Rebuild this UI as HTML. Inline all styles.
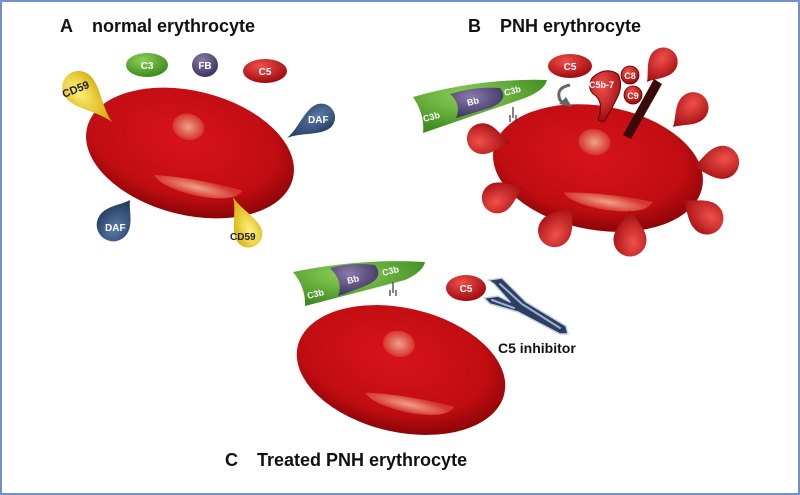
<!DOCTYPE html>
<html><head><meta charset="utf-8"><style>
html,body{margin:0;padding:0;background:#fff;}
svg{display:block}
text{font-family:"Liberation Sans",Arial,sans-serif;font-weight:bold}
</style></head><body>
<svg width="800" height="495" viewBox="0 0 800 495" xmlns="http://www.w3.org/2000/svg">
<defs>
<radialGradient id="rbc" cx="45%" cy="40%" r="60%">
<stop offset="0" stop-color="#d8131a"/><stop offset="0.75" stop-color="#c00d12"/><stop offset="1" stop-color="#8e0508"/>
</radialGradient>
<radialGradient id="hl" cx="50%" cy="50%" r="50%">
<stop offset="0" stop-color="#f0a08a"/><stop offset="1" stop-color="#d4352e"/>
</radialGradient>
<radialGradient id="grn" cx="40%" cy="30%" r="70%"><stop offset="0" stop-color="#8ed058"/><stop offset="1" stop-color="#3c8a1e"/></radialGradient>
<radialGradient id="pur" cx="40%" cy="30%" r="70%"><stop offset="0" stop-color="#8a7aaa"/><stop offset="1" stop-color="#3d3462"/></radialGradient>
<radialGradient id="red" cx="40%" cy="30%" r="70%"><stop offset="0" stop-color="#f0504a"/><stop offset="1" stop-color="#a00a0e"/></radialGradient>
<radialGradient id="yel" cx="40%" cy="30%" r="70%"><stop offset="0" stop-color="#fff27a"/><stop offset="1" stop-color="#d0a400"/></radialGradient>
<radialGradient id="blu" cx="40%" cy="30%" r="70%"><stop offset="0" stop-color="#5a7aa8"/><stop offset="1" stop-color="#1f3556"/></radialGradient>
<g id="cell">
<ellipse cx="0" cy="0" rx="106" ry="62" fill="url(#rbc)"/>
<ellipse cx="-8" cy="-25" rx="16" ry="13" fill="url(#hl)"/>
<path d="M-30 30 Q15 22 60 24 Q55 38 15 40 Q-20 40 -30 30Z" fill="url(#hl)"/>
</g>
<path id="drop" d="M0 0 C-2 -12 -11 -22 -11 -32 A11 11 0 1 1 11 -32 C11 -22 2 -12 0 0Z"/>
<path id="drop2" d="M0 0 C-3 -6 -11 -12 -11 -20 A11 11 0 1 1 11 -20 C11 -12 3 -6 0 0Z"/>
</defs>
<rect x="1" y="1" width="798" height="493" fill="#fff" stroke="#7390c8" stroke-width="2"/>

<text x="60" y="32" font-size="18" fill="#111">A</text>
<text x="92" y="32" font-size="18" fill="#111">normal erythrocyte</text>
<text x="468" y="32" font-size="18" fill="#111">B</text>
<text x="500" y="32" font-size="18" fill="#111">PNH erythrocyte</text>
<text x="225" y="466" font-size="18" fill="#111">C</text>
<text x="257" y="466" font-size="18" fill="#111">Treated PNH erythrocyte</text>

<!-- A -->
<use href="#cell" transform="translate(190,153) rotate(14)"/>
<ellipse cx="147" cy="65" rx="21" ry="12" fill="url(#grn)"/><text x="147" y="69" font-size="10" fill="#fff" text-anchor="middle">C3</text>
<ellipse cx="205" cy="65" rx="13" ry="12" fill="url(#pur)"/><text x="205" y="69" font-size="10" fill="#fff" text-anchor="middle">FB</text>
<ellipse cx="265" cy="71" rx="22" ry="12" fill="url(#red)"/><text x="265" y="75" font-size="10" fill="#fff" text-anchor="middle">C5</text>
<use href="#drop" transform="translate(112,122) rotate(-44) scale(1.5)" fill="url(#yel)"/>
<text x="64" y="98" font-size="11" fill="#222" transform="rotate(-22 64 98)">CD59</text>
<use href="#drop" transform="translate(287,138) rotate(59) scale(1.25)" fill="url(#blu)"/>
<text x="308" y="123" font-size="10" fill="#fff">DAF</text>
<use href="#drop2" transform="translate(130,200) rotate(-146) scale(1.5)" fill="url(#blu)"/>
<text x="105" y="231" font-size="10" fill="#fff">DAF</text>
<use href="#drop" transform="translate(233,197) rotate(157) scale(1.25)" fill="url(#yel)"/>
<text x="230" y="240" font-size="10" fill="#222">CD59</text>

<!-- B -->
<use href="#cell" transform="translate(598,168) rotate(10)"/>
<g fill="url(#red)">
<use href="#drop2" transform="translate(510,143) rotate(-81) scale(1.4)"/>
<use href="#drop2" transform="translate(673,127) rotate(46) scale(1.4)"/>
<use href="#drop2" transform="translate(693,167) rotate(81) scale(1.5)"/>
<use href="#drop2" transform="translate(683,200) rotate(127) scale(1.5)"/>
<use href="#drop2" transform="translate(630,210) rotate(180) scale(1.5)"/>
<use href="#drop2" transform="translate(573,207) rotate(-142) scale(1.5)"/>
<use href="#drop2" transform="translate(523,187) rotate(-113) scale(1.4)"/>
<use href="#drop2" transform="translate(647,82) rotate(39) scale(1.3)"/>
</g>
<path d="M413 97 Q480 78 547 80 Q545 90 525 98 L423 133 Q425 115 413 97Z" fill="url(#grn)"/>
<path d="M450 94 Q475 86 500 88 Q510 100 490 108 Q470 114 456 118 Q462 105 450 94Z" fill="url(#pur)"/>
<text x="424" y="122" font-size="9" fill="#fff" transform="rotate(-15 424 122)">C3b</text>
<text x="468" y="106" font-size="9" fill="#fff" transform="rotate(-15 468 106)">Bb</text>
<text x="505" y="96" font-size="9" fill="#fff" transform="rotate(-15 505 96)">C3b</text>
<path d="M513 107 V118 M510 115 V122 M516 115 V122" stroke="#333" stroke-width="1.2" fill="none"/>
<path d="M570 85 Q555 88 560 100 L565 105" stroke="#666" stroke-width="3" fill="none"/>
<path d="M559 104 L572 107 L566 97Z" fill="#666"/>
<ellipse cx="570" cy="66" rx="22" ry="12" fill="url(#red)"/><text x="570" y="70" font-size="10" fill="#fff" text-anchor="middle">C5</text>
<path d="M592 78 Q605 66 618 74 Q624 86 616 100 Q610 112 604 122 L598 120 Q604 104 596 96 Q586 90 592 78Z" fill="url(#red)" stroke="#5a0000" stroke-width="1"/>
<text x="589" y="88" font-size="9" fill="#fff">C5b-7</text>
<circle cx="630" cy="75" r="9" fill="url(#red)" stroke="#5a0000" stroke-width="0.8"/><text x="630" y="79" font-size="9" fill="#fff" text-anchor="middle">C8</text>
<circle cx="633" cy="95" r="9" fill="url(#red)" stroke="#5a0000" stroke-width="0.8"/><text x="633" y="99" font-size="9" fill="#fff" text-anchor="middle">C9</text>
<path d="M654 79 L662 84 L631 139 L623 135Z" fill="#3a0a0a"/>

<!-- C -->
<use href="#cell" transform="translate(401,370) rotate(13)"/>
<path d="M293 272 Q360 258 425 262 Q423 272 405 280 L305 306 Q306 288 293 272Z" fill="url(#grn)"/>
<path d="M330 268 Q352 262 375 265 Q385 278 365 286 Q350 292 338 296 Q344 282 330 268Z" fill="url(#pur)"/>
<text x="308" y="299" font-size="9" fill="#fff" transform="rotate(-14 308 299)">C3b</text>
<text x="348" y="284" font-size="9" fill="#fff" transform="rotate(-14 348 284)">Bb</text>
<text x="383" y="276" font-size="9" fill="#fff" transform="rotate(-14 383 276)">C3b</text>
<path d="M393 282 V293 M390 290 V296 M396 290 V296" stroke="#333" stroke-width="1.2" fill="none"/>
<g stroke-linecap="round" stroke-linejoin="round">
<path d="M488 280 L502 278 L526 302 L566 326 L568 334 L560 334 L518 312 L490 304 L484 298 L498 296 L510 302 L494 284Z" fill="#2c3e62" stroke="#c8d2e2" stroke-width="1.5"/>
<path d="M500 284 L522 304 L560 328" stroke="#9fb0cc" stroke-width="2" fill="none"/>
<path d="M492 300 L514 308" stroke="#9fb0cc" stroke-width="2" fill="none"/>
</g>
<ellipse cx="466" cy="288" rx="20" ry="13" fill="url(#red)"/><text x="466" y="292" font-size="10" fill="#fff" text-anchor="middle">C5</text>
<text x="498" y="353" font-size="14" fill="#111">C5 inhibitor</text>
</svg>
</body></html>
